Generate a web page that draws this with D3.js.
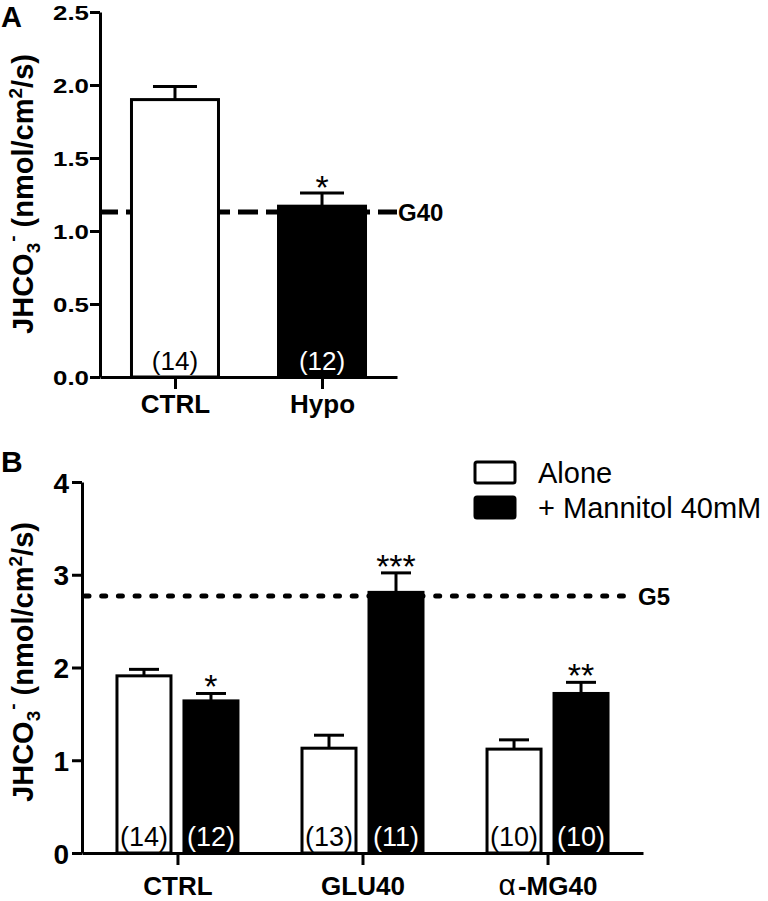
<!DOCTYPE html>
<html>
<head>
<meta charset="utf-8">
<script src="https://cdn.jsdelivr.net/npm/d3@7"></script>
<style>
  html, body { margin: 0; padding: 0; background: #fff; }
  svg { display: block; font-family: "Liberation Sans", Arial, sans-serif; }
</style>
</head>
<body>
<svg id="chart" width="768" height="901"></svg>
<script>
// ---------- data ----------
const catsA = ["CTRL", "Hypo"];
const meanA = [1.90, 1.17];
const semA = [0.09, 0.09];
const fillA = ["white", "black"];
const nA = ["(14)", "(12)"];
const starsA = ["", "*"];
const g40 = 1.13;
const ticksA = [0, 0.5, 1.0, 1.5, 2.0, 2.5];

const catsB = ["CTRL", "GLU40", "α-MG40"];
const seriesB = ["Alone", "+ Mannitol 40mM"];
const aloneB = [1.91, 1.13, 1.12];
const aloneSemB = [0.07, 0.14, 0.10];
const mannB = [1.64, 2.81, 1.72];
const mannSemB = [0.08, 0.21, 0.12];
const nAloneB = ["(14)", "(13)", "(10)"];
const nMannB = ["(12)", "(11)", "(10)"];
const starsMannB = ["*", "***", "**"];
const g5 = 2.77;
const ticksB = [0, 1, 2, 3, 4];

const FONT = "Liberation Sans, Arial, sans-serif";
const svg = d3.select("#chart");
svg.append("rect").attr("width", 768).attr("height", 901).attr("fill", "white");

function yTitle(g, x, y) {
  const t = g.append("text")
    .attr("transform", `translate(${x},${y}) rotate(-90)`)
    .attr("text-anchor", "middle")
    .attr("font-weight", "bold")
    .attr("font-size", 29);
  t.append("tspan").text("JHCO");
  t.append("tspan").attr("font-size", 19).attr("dy", 7).text("3");
  t.append("tspan").attr("font-size", 19).attr("dy", -21).attr("dx", 1).text("-");
  t.append("tspan").attr("dy", 14).text(" (nmol/cm");
  t.append("tspan").attr("font-size", 19).attr("dy", -11).text("2");
  t.append("tspan").attr("dy", 11).text("/s)");
}

// ---------- Panel A ----------
const gA = svg.append("g");
const yA = d3.scaleLinear().domain([0, 2.5]).range([377, 12]);
const xA = d3.scalePoint().domain(catsA).range([100, 397]).padding(0.51);
const bwA = 87;

gA.append("text").attr("x", 1).attr("y", 27).attr("font-size", 29).attr("font-weight", "bold").text("A");
yTitle(gA, 33, 194);

// G40 dashed line (behind bars)
gA.append("line")
  .attr("x1", 100).attr("x2", 397)
  .attr("y1", yA(g40)).attr("y2", yA(g40))
  .attr("stroke", "black").attr("stroke-width", 5)
  .attr("stroke-dasharray", "20,8").attr("stroke-dashoffset", 2);
gA.append("text").attr("x", 398).attr("y", yA(g40)).attr("dy", "0.36em")
  .attr("font-size", 24).attr("font-weight", "bold").text("G40");

const dataA = catsA.map((c, i) => ({ c, m: meanA[i], s: semA[i], f: fillA[i], n: nA[i], st: starsA[i] }));
const barA = gA.selectAll(".barA").data(dataA).enter().append("g");
barA.append("line")
  .attr("x1", d => xA(d.c)).attr("x2", d => xA(d.c))
  .attr("y1", d => yA(d.m)).attr("y2", d => yA(d.m + d.s))
  .attr("stroke", "black").attr("stroke-width", 3);
barA.append("line")
  .attr("x1", d => xA(d.c) - 22).attr("x2", d => xA(d.c) + 22)
  .attr("y1", d => yA(d.m + d.s)).attr("y2", d => yA(d.m + d.s))
  .attr("stroke", "black").attr("stroke-width", 3);
barA.append("rect")
  .attr("x", d => xA(d.c) - bwA / 2).attr("width", bwA)
  .attr("y", d => yA(d.m)).attr("height", d => yA(0) - yA(d.m))
  .attr("fill", d => d.f).attr("stroke", "black").attr("stroke-width", 3);
barA.append("text")
  .attr("x", d => xA(d.c)).attr("y", 370)
  .attr("text-anchor", "middle").attr("font-size", 26)
  .attr("fill", d => d.f === "black" ? "white" : "black")
  .text(d => d.n);
barA.append("text")
  .attr("x", d => xA(d.c)).attr("y", d => yA(d.m + d.s) + 6)
  .attr("text-anchor", "middle").attr("font-size", 34)
  .text(d => d.st);

// axes A
const axLA = gA.append("g").attr("transform", "translate(100,0)")
  .call(d3.axisLeft(yA).tickValues(ticksA).tickFormat(d3.format(".1f")).tickSize(10).tickSizeOuter(0).tickPadding(1));
axLA.selectAll("text").attr("font-size", 21).attr("font-weight", "bold")
  .attr("font-family", FONT)
  .attr("textLength", 36).attr("lengthAdjust", "spacingAndGlyphs").attr("dy", "0.36em");
const axBA = gA.append("g").attr("transform", "translate(0,377)")
  .call(d3.axisBottom(xA).tickSize(12).tickSizeOuter(0));
axBA.selectAll("text").attr("font-size", 26).attr("font-weight", "bold")
  .attr("font-family", FONT)
  .attr("y", 36).attr("dy", 0);
[axLA, axBA].forEach(a => {
  a.selectAll("path, line").attr("stroke", "black").attr("stroke-width", 3);
  a.selectAll("text").attr("fill", "black");
});

// ---------- Panel B ----------
const gB = svg.append("g");
const yB = d3.scaleLinear().domain([0, 4]).range([853, 482]);
const xB = d3.scalePoint().domain(catsB).range([82, 643]).padding(0.516);
const xSub = d3.scaleBand().domain(seriesB).range([-60.5, 60.5]).paddingInner(0.194);

gB.append("text").attr("x", 1).attr("y", 472).attr("font-size", 30).attr("font-weight", "bold").text("B");
yTitle(gB, 33, 662);

gB.append("line")
  .attr("x1", 82).attr("x2", 636)
  .attr("y1", yB(g5)).attr("y2", yB(g5))
  .attr("stroke", "black").attr("stroke-width", 5).attr("stroke-linecap", "round")
  .attr("stroke-dasharray", "4,12.7").attr("stroke-dashoffset", -3);
gB.append("text").attr("x", 638).attr("y", yB(g5)).attr("dy", "0.36em")
  .attr("font-size", 24).attr("font-weight", "bold").text("G5");

const dataB = [];
catsB.forEach((c, i) => {
  dataB.push({ c, s: seriesB[0], m: aloneB[i], e: aloneSemB[i], f: "white", n: nAloneB[i], st: "" });
  dataB.push({ c, s: seriesB[1], m: mannB[i], e: mannSemB[i], f: "black", n: nMannB[i], st: starsMannB[i] });
});
const cx = d => xB(d.c) + xSub(d.s) + xSub.bandwidth() / 2;
const barB = gB.selectAll(".barB").data(dataB).enter().append("g");
barB.append("line")
  .attr("x1", cx).attr("x2", cx)
  .attr("y1", d => yB(d.m)).attr("y2", d => yB(d.m + d.e))
  .attr("stroke", "black").attr("stroke-width", 3);
barB.append("line")
  .attr("x1", d => cx(d) - 15).attr("x2", d => cx(d) + 15)
  .attr("y1", d => yB(d.m + d.e)).attr("y2", d => yB(d.m + d.e))
  .attr("stroke", "black").attr("stroke-width", 3);
barB.append("rect")
  .attr("x", d => xB(d.c) + xSub(d.s)).attr("width", xSub.bandwidth())
  .attr("y", d => yB(d.m)).attr("height", d => yB(0) - yB(d.m))
  .attr("fill", d => d.f).attr("stroke", "black").attr("stroke-width", 3);
barB.append("text")
  .attr("x", cx).attr("y", 846)
  .attr("text-anchor", "middle").attr("font-size", 27)
  .attr("fill", d => d.f === "black" ? "white" : "black")
  .text(d => d.n);
barB.append("text")
  .attr("x", cx).attr("y", d => yB(d.m + d.e) + 5)
  .attr("text-anchor", "middle").attr("font-size", 34)
  .text(d => d.st);

// axes B
const axLB = gB.append("g").attr("transform", "translate(82,0)")
  .call(d3.axisLeft(yB).tickValues(ticksB).tickFormat(d3.format("d")).tickSize(10).tickSizeOuter(0).tickPadding(3));
axLB.selectAll("text").attr("font-size", 28).attr("font-weight", "bold")
  .attr("font-family", FONT).attr("dy", "0.36em");
const axBB = gB.append("g").attr("transform", "translate(0,853)")
  .call(d3.axisBottom(xB).tickSize(12).tickSizeOuter(0).tickFormat(() => ""));
axBB.selectAll(".tick").each(function(d) {
  const t = d3.select(this).append("text")
    .attr("y", 42).attr("text-anchor", "middle").attr("font-size", 26).attr("fill", "black")
    .attr("font-family", FONT);
  if (d.startsWith("α")) {
    t.append("tspan").attr("font-weight", "normal").attr("font-size", 30).text("α");
    t.append("tspan").attr("font-weight", "bold").attr("dx", 2).text(d.slice(1));
  } else {
    t.attr("font-weight", "bold").text(d);
  }
});
[axLB, axBB].forEach(a => {
  a.selectAll("path, line").attr("stroke", "black").attr("stroke-width", 3);
  a.selectAll("text").attr("fill", "black");
});

// legend B
const leg = gB.append("g");
seriesB.forEach((s, i) => {
  const y0 = 462 + i * 35;
  leg.append("rect").attr("x", 475).attr("y", y0).attr("width", 40).attr("height", 21)
    .attr("rx", 2).attr("fill", i === 0 ? "white" : "black").attr("stroke", "black").attr("stroke-width", 3);
  leg.append("text").attr("x", 538).attr("y", y0 + 21).attr("font-size", 29).text(s);
});
</script>
</body>
</html>
